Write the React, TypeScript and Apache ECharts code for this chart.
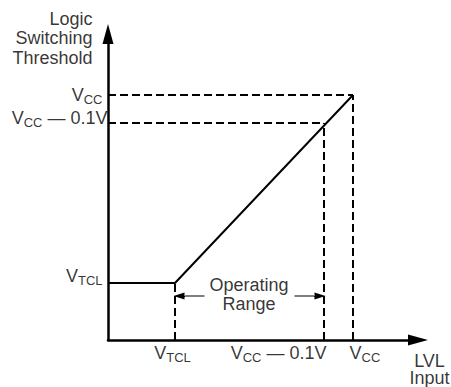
import React, { useEffect, useRef } from "react";
import * as echarts from "echarts";

// Schematic levels (arbitrary units; origin at the axes' corner)
const xLevels = { vtcl: 67, vcc01: 216, vcc: 245 };
const yLevels = { vtcl: 57, vcc01: 217, vcc: 245 };
const xMax = 310;
const yMax = 306;
const thresholdCurve: [number, number][] = [
  [0, yLevels.vtcl],
  [xLevels.vtcl, yLevels.vtcl],
  [xLevels.vcc, yLevels.vcc],
];
const rangeArrowY = 44;
const rangeTextY = 45;
const arrowGap = 45; // half-gap left for the "Operating Range" text
const arrowHeadLen = 10;

const FONT = "'Liberation Sans', Arial, Helvetica, sans-serif";

const rich = {
  v: { fontSize: 18, fontFamily: FONT, color: "#000", lineHeight: 20, verticalAlign: "top" },
  s: { fontSize: 13, fontFamily: FONT, color: "#000", lineHeight: 9, verticalAlign: "bottom" },
};

const VCC = "{v|V}{s|CC}";
const VCC01 = "{v|V}{s|CC}{v| \u2014 0.1V}";
const VTCL = "{v|V}{s|TCL}";

export default function App() {
  const ref = useRef<HTMLDivElement>(null);
  useEffect(() => {
    if (!ref.current) return;
    const chart = echarts.init(ref.current, null, { renderer: "svg" });
    const dashed = (pts: [number, number][]) => ({
      type: "line",
      data: pts,
      symbol: "none",
      silent: true,
      lineStyle: { color: "#000", width: 2, type: [8, 4] },
    });
    const mid = (xLevels.vtcl + xLevels.vcc01) / 2;
    const lbl = (
      x: number,
      y: number,
      text: string,
      align: string,
      verticalAlign: string,
      offset: [number, number],
      extra: any = {}
    ) => ({
      value: [x, y],
      label: {
        show: true,
        position: [0, 0],
        formatter: text,
        align,
        verticalAlign,
        offset,
        rich,
        color: "#000",
        fontFamily: FONT,
        fontSize: 18,
        ...extra,
      },
    });
    chart.setOption({
      animation: false,
      grid: { left: 108, top: 34, width: xMax, height: yMax },
      xAxis: {
        type: "value",
        min: 0,
        max: xMax,
        axisLine: {
          show: true,
          symbol: ["none", "triangle"],
          symbolSize: [11, 20],
          lineStyle: { color: "#000", width: 2.5 },
        },
        axisTick: { show: false },
        axisLabel: { show: false },
        splitLine: { show: false },
      },
      yAxis: {
        type: "value",
        min: 0,
        max: yMax,
        axisLine: {
          show: true,
          symbol: ["none", "triangle"],
          symbolSize: [11, 20],
          lineStyle: { color: "#000", width: 2.5 },
        },
        axisTick: { show: false },
        axisLabel: { show: false },
        splitLine: { show: false },
      },
      series: [
        dashed([[0, yLevels.vcc], [xLevels.vcc, yLevels.vcc]]),
        dashed([[0, yLevels.vcc01], [xLevels.vcc01, yLevels.vcc01]]),
        dashed([[xLevels.vtcl, 0], [xLevels.vtcl, yLevels.vtcl]]),
        dashed([[xLevels.vcc01, 0], [xLevels.vcc01, yLevels.vcc01]]),
        dashed([[xLevels.vcc, 0], [xLevels.vcc, yLevels.vcc]]),
        {
          type: "line",
          data: thresholdCurve,
          symbol: "none",
          silent: true,
          lineStyle: { color: "#000", width: 2 },
          z: 3,
        },
        {
          type: "line",
          data: [],
          silent: true,
          markLine: {
            silent: true,
            symbol: ["none", "none"],
            label: { show: false },
            lineStyle: { color: "#555", width: 1.5, type: "solid" },
            data: [
              [
                { coord: [mid - arrowGap, rangeArrowY] },
                { coord: [xLevels.vtcl + arrowHeadLen, rangeArrowY] },
              ],
              [
                { coord: [mid + arrowGap, rangeArrowY] },
                { coord: [xLevels.vcc01 - arrowHeadLen, rangeArrowY] },
              ],
            ],
          },
        },
        {
          type: "line",
          data: [],
          silent: true,
          markLine: {
            silent: true,
            symbol: ["none", "triangle"],
            symbolSize: [7, 11],
            label: { show: false },
            lineStyle: { color: "#000", width: 1, type: "solid" },
            data: [
              [
                { coord: [xLevels.vtcl + arrowHeadLen, rangeArrowY] },
                { coord: [xLevels.vtcl + 4, rangeArrowY] },
              ],
              [
                { coord: [xLevels.vcc01 - arrowHeadLen, rangeArrowY] },
                { coord: [xLevels.vcc01 - 4, rangeArrowY] },
              ],
            ],
          },
        },
        {
          type: "scatter",
          symbol: "circle",
          symbolSize: 1,
          silent: true,
          itemStyle: { color: "rgba(0,0,0,0)" },
          data: [
            lbl(0, yLevels.vcc, VCC, "right", "middle", [-5, 1]),
            lbl(0, yLevels.vcc01, VCC01, "right", "middle", [0, -4]),
            lbl(0, yLevels.vtcl, VTCL, "right", "middle", [-5, -6]),
            lbl(xLevels.vtcl, 0, VTCL, "center", "top", [-2, 4]),
            lbl(xLevels.vcc01, 0, VCC01, "right", "top", [3, 4]),
            lbl(xLevels.vcc, 0, VCC, "left", "top", [-3, 4]),
            lbl(xMax, 0, "LVL\nInput", "center", "top", [12, 13], { lineHeight: 17 }),
            lbl(0, yMax, "Logic\nSwitching\nThreshold", "right", "bottom", [-15, 34], {
              lineHeight: 19.5,
            }),
            lbl(mid, rangeTextY, "Operating\nRange", "center", "middle", [0, 0], {
              lineHeight: 18.5,
            }),
          ],
        },
      ],
    });
    return () => chart.dispose();
  }, []);
  return (
    <div
      ref={ref}
      style={{ position: "absolute", left: 0, top: 0, width: 451, height: 387, background: "#fff" }}
    />
  );
}
